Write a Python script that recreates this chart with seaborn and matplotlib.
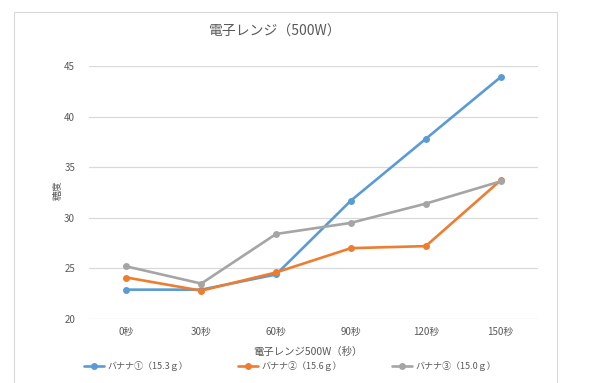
import matplotlib
matplotlib.use("Agg")
import matplotlib.pyplot as plt
import seaborn as sns
import pandas as pd
from matplotlib.patches import Rectangle

times = ["0秒", "30秒", "60秒", "90秒", "120秒", "150秒"]
banana1 = [22.9, 22.9, 24.4, 31.7, 37.8, 43.9]
banana2 = [24.1, 22.8, 24.6, 27.0, 27.2, 33.7]
banana3 = [25.2, 23.5, 28.4, 29.5, 31.4, 33.6]
series_names = ["バナナ①（15.3ｇ）", "バナナ②（15.6ｇ）", "バナナ③（15.0ｇ）"]
colors = ["#5B9BD5", "#ED7D31", "#A5A5A5"]
yticks = [20, 25, 30, 35, 40, 45]

sns.set_theme(style="white")
plt.rcParams['font.family'] = ['Noto Sans CJK JP', 'DejaVu Sans']

rows = []
for name, vals in zip(series_names, [banana1, banana2, banana3]):
    for t, v in zip(times, vals):
        rows.append({"time": t, "value": v, "series": name})
df = pd.DataFrame(rows)

fig = plt.figure(figsize=(6.14, 3.83), dpi=100)
fig.patch.set_facecolor("white")
fig.patches.append(Rectangle((14/614, -0.05), (557-14)/614, 1.05 - 12/383,
                             transform=fig.transFigure, fill=False,
                             edgecolor="#D9D9D9", linewidth=0.8))

ax = fig.add_axes([89/614, 1-319/383, (538-89)/614, (319-66)/383])
sns.lineplot(data=df, x="time", y="value", hue="series", palette=colors,
             marker="o", markersize=5, markeredgewidth=0, linewidth=1.9,
             sort=False, ax=ax, legend=True)

ax.set_xlim(-0.5, 5.5)
ax.set_ylim(20, 45)
ax.set_yticks(yticks)
for y in yticks:
    ax.axhline(y, color="#D9D9D9", linewidth=0.9, zorder=0)
for s in ax.spines.values():
    s.set_visible(False)
ax.tick_params(axis="both", length=0, labelsize=7, colors="#595959")
ax.tick_params(axis="x", pad=6)
ax.tick_params(axis="y", pad=10)
ax.set_xlabel("")
ax.set_ylabel("")

fig.text(58/614, 1-190/383, "糖度", rotation=90, ha="center", va="center",
         fontsize=7, color="#595959")
fig.text(275/614, 1-32/383, "電子レンジ（500W）", ha="center", va="center",
         fontsize=10, color="#595959")
fig.text(308/614, 1-352/383, "電子レンジ500W（秒）", ha="center", va="center",
         fontsize=7.5, color="#595959")

handles, labels = ax.get_legend_handles_labels()
ax.get_legend().remove()
leg = fig.legend(handles, labels, loc="center", bbox_to_anchor=(290/614, 1-366/383),
                 ncol=3, frameon=False, fontsize=6.5, handlelength=2.2,
                 columnspacing=5.5, handletextpad=0.4, labelcolor="#595959")

fig.savefig("out.png", dpi=100, facecolor="white")
